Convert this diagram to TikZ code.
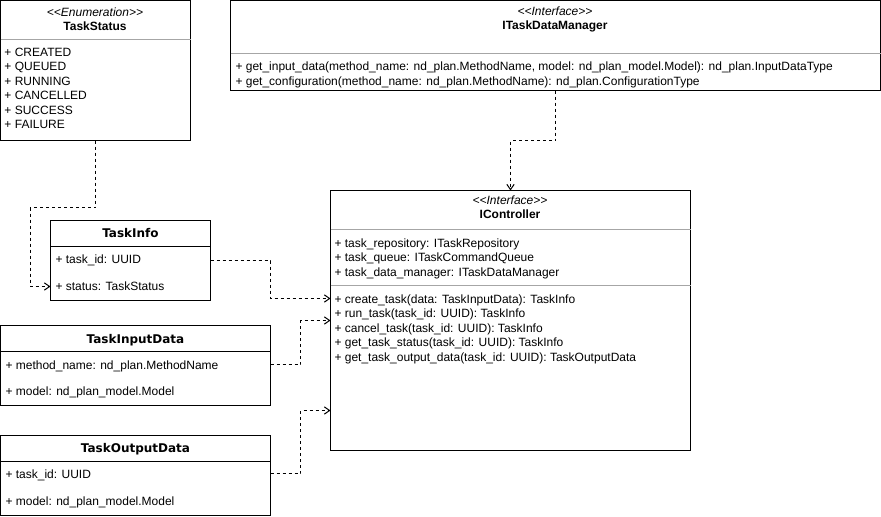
\documentclass[tikz,border=0pt]{standalone}
\usepackage{fontspec}
\setmainfont{Liberation Sans}
\newfontfamily\vfont{DejaVu Sans}
\usetikzlibrary{positioning, arrows.meta}

\begin{document}
\begin{tikzpicture}[x=0.75pt, y=-0.75pt, line width=0.75pt,
    font=\fontsize{9}{10.8}\selectfont,
    >={Straight Barb[length=4pt,width=5.5pt]},
    cls/.style={draw, anchor=north west, inner sep=0pt, outer sep=0pt},
    sepline/.style={draw=black!35},
    hdline/.style={draw=black},
    ster/.style={anchor=base, inner sep=0pt, yshift=-3.2pt, font=\fontsize{9}{10.8}\selectfont\itshape},
    cname/.style={anchor=base, inner sep=0pt, yshift=-3.2pt, font=\fontsize{9}{10.8}\selectfont\bfseries},
    dname/.style={anchor=base, inner sep=0pt, yshift=-3.3pt, font=\vfont\bfseries\fontsize{9}{10.8}\selectfont},
    row/.style={anchor=base west, inner sep=0pt, yshift=-3.2pt},
    dep/.style={->, dash pattern=on 2.25pt off 2.25pt}]
    \useasboundingbox (0,0) rectangle (881,517);

    % Nodes
    \node[cls, minimum width=142.5pt, minimum height=105pt] (ts) at (0.5,0.5) {};
    \node[ster] (ts-st) at (95,12) {<{}<Enumeration>{}>};
    \node[cname] (ts-nm) at (95,26) {TaskStatus};
    \draw[sepline] (ts.west |- 0,39.5) -- (ts.east |- 0,39.5);
    \foreach \v [count=\i] in {CREATED, QUEUED, RUNNING, CANCELLED, SUCCESS, FAILURE}
        \node[row] (ts-\i) at (4,37.5+14.5*\i) {+ \v};

    \node[cls, minimum width=487.5pt, minimum height=67.5pt] (tdm) at (230.5,0.5) {};
    \node[ster] (tdm-st) at (555,11) {<{}<Interface>{}>};
    \node[cname] (tdm-nm) at (555,25) {ITaskDataManager};
    \draw[sepline] (tdm.west |- 0,53.5) -- (tdm.east |- 0,53.5);
    \node[row] (tdm-1) at (235,66) {+ get\_input\_data(method\_name: nd\_plan.MethodName, model: nd\_plan\_model.Model): nd\_plan.InputDataType};
    \node[row] (tdm-2) at (235,81) {+ get\_configuration(method\_name: nd\_plan.MethodName): nd\_plan.ConfigurationType};

    \node[cls, minimum width=270pt, minimum height=195pt] (ctrl) at (330.5,190.5) {};
    \node[ster] (ctrl-st) at (510,200) {<{}<Interface>{}>};
    \node[cname] (ctrl-nm) at (510,214) {IController};
    \draw[sepline] (ctrl.west |- 0,229.5) -- (ctrl.east |- 0,229.5);
    \node[row] (ctrl-a1) at (334,243) {+ task\_repository: ITaskRepository};
    \node[row] (ctrl-a2) at (334,257.5) {+ task\_queue: ITaskCommandQueue};
    \node[row] (ctrl-a3) at (334,272) {+ task\_data\_manager: ITaskDataManager};
    \draw[sepline] (ctrl.west |- 0,285.5) -- (ctrl.east |- 0,285.5);
    \node[row] (ctrl-m1) at (334,299) {+ create\_task(data: TaskInputData): TaskInfo};
    \node[row] (ctrl-m2) at (334,313.5) {+ run\_task(task\_id: UUID): TaskInfo};
    \node[row] (ctrl-m3) at (334,328) {+ cancel\_task(task\_id: UUID): TaskInfo};
    \node[row] (ctrl-m4) at (334,342.5) {+ get\_task\_status(task\_id: UUID): TaskInfo};
    \node[row] (ctrl-m5) at (334,357) {+ get\_task\_output\_data(task\_id: UUID): TaskOutputData};

    \node[cls, minimum width=120pt, minimum height=60pt] (tinfo) at (50.5,220.5) {};
    \node[dname] (tinfo-nm) at (130.5,233.5) {TaskInfo};
    \draw[hdline] (tinfo.west |- 0,246.5) -- (tinfo.east |- 0,246.5);
    \node[row] (tinfo-1) at (55,259.5) {+ task\_id: UUID};
    \node[row] (tinfo-2) at (55,286) {+ status: TaskStatus};

    \node[cls, minimum width=202.5pt, minimum height=60pt] (tin) at (0.5,325.5) {};
    \node[dname] (tin-nm) at (135.5,339) {TaskInputData};
    \draw[hdline] (tin.west |- 0,351.5) -- (tin.east |- 0,351.5);
    \node[row] (tin-1) at (5,365) {+ method\_name: nd\_plan.MethodName};
    \node[row] (tin-2) at (5,391) {+ model: nd\_plan\_model.Model};

    \node[cls, minimum width=202.5pt, minimum height=60pt] (tout) at (0.5,435.5) {};
    \node[dname] (tout-nm) at (135.5,448.5) {TaskOutputData};
    \draw[hdline] (tout.west |- 0,461.5) -- (tout.east |- 0,461.5);
    \node[row] (tout-1) at (5,474.5) {+ task\_id: UUID};
    \node[row] (tout-2) at (5,501) {+ model: nd\_plan\_model.Model};

    % Paths
    \draw[dep] (ts.south) -- (95.5,207.5) -| (30.5,286.5) -- (tinfo.west |- 0,286.5);
    \draw[dep] (tdm.south) -- ++(0,50) -| (ctrl.north);
    \draw[dep] (tinfo.east |- 0,260.5) -| (270.5,298.5) -- (ctrl.west |- 0,298.5);
    \draw[dep] (tin.east |- 0,364.5) -| (300.5,320.5) -- (ctrl.west |- 0,320.5);
    \draw[dep] (tout.east |- 0,473.5) -| (300.5,410.5) -- (ctrl.west |- 0,410.5);
\end{tikzpicture}
\end{document}
